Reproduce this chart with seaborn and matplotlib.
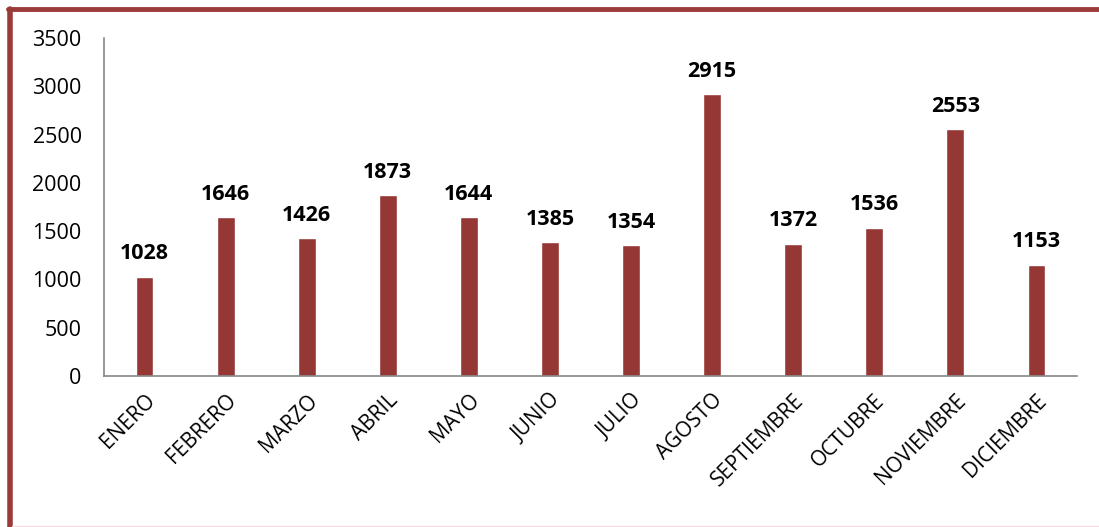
import matplotlib
matplotlib.use('Agg')
import matplotlib.pyplot as plt
import seaborn as sns
import pandas as pd
from matplotlib.lines import Line2D

meses = ['ENERO', 'FEBRERO', 'MARZO', 'ABRIL', 'MAYO', 'JUNIO', 'JULIO',
         'AGOSTO', 'SEPTIEMBRE', 'OCTUBRE', 'NOVIEMBRE', 'DICIEMBRE']
valores = [1028, 1646, 1426, 1873, 1644, 1385, 1354, 2915, 1372, 1536, 2553, 1153]
yticks = [0, 500, 1000, 1500, 2000, 2500, 3000, 3500]

df = pd.DataFrame({'mes': meses, 'valor': valores})

sns.set_style('white')
plt.rcParams['font.family'] = ['Open Sans', 'DejaVu Sans']

fig = plt.figure(figsize=(10.99, 5.27), dpi=100)
ax = fig.add_axes([0.0946, 0.2865, 0.8854, 0.6414])

sns.barplot(data=df, x='mes', y='valor', color='#953735', saturation=1,
            width=0.22, ax=ax)

# etiquetas de valor
for i, v in enumerate(valores):
    ax.annotate(str(v), (i, v), xytext=(0, 9), textcoords='offset points',
                ha='center', va='bottom', fontsize=15.5, fontweight='bold',
                color='black')

ax.set_xlim(-0.5, len(meses) - 0.5)
ax.set_ylim(0, 3500)
ax.set_yticks(yticks)
ax.set_yticklabels([str(t) for t in yticks], fontsize=15.5, color='black')
ax.set_xticks(range(len(meses)))
ax.set_xticklabels(meses, rotation=45, ha='right', rotation_mode='anchor',
                   fontsize=15, color='black')
ax.set_xticks([i - 0.5 for i in range(len(meses) + 1)], minor=True)
ax.tick_params(axis='x', which='major', length=0, pad=10)
ax.tick_params(axis='x', which='minor', length=7, width=1.2, color='#868686', direction='out')
ax.tick_params(axis='y', length=7, width=1.2, color='#868686', direction='out', pad=9)
ax.set_xlabel('')
ax.set_ylabel('')

for s in ['top', 'right']:
    ax.spines[s].set_visible(False)
for s in ['left', 'bottom']:
    ax.spines[s].set_color('#868686')
    ax.spines[s].set_linewidth(1.2)

# marco del gráfico
W, H = 1099, 527
fig.add_artist(Line2D([9.5 / W, 9.5 / W], [0, 1 - 9 / H], color='#9b3b39', lw=4))
fig.add_artist(Line2D([8 / W, 1], [1 - 9 / H, 1 - 9 / H], color='#9b3b39', lw=3.5))
fig.add_artist(Line2D([12 / W, 1], [1.5 / H, 1.5 / H], color='#f5dde3', lw=1))

plt.savefig('out.png', dpi=100)
